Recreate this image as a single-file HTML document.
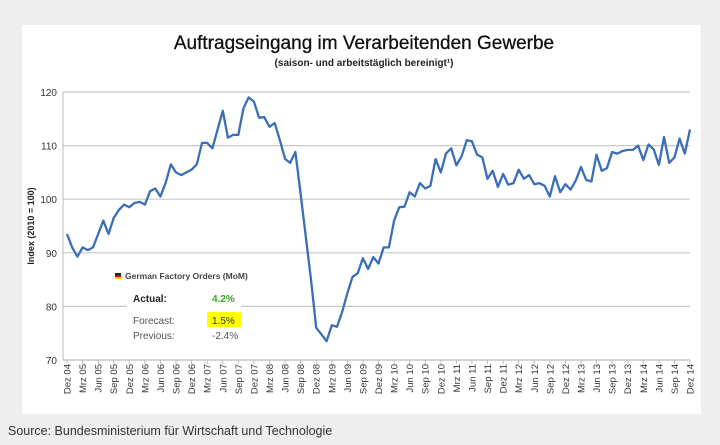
<!DOCTYPE html>
<html><head><meta charset="utf-8"><style>
body{margin:0;width:720px;height:445px;background:#eeeeee;overflow:hidden;font-family:"Liberation Sans",sans-serif}
#panel{position:absolute;left:22px;top:25px;width:679px;height:389px;background:#fff}
#src{position:absolute;left:8px;top:424px;font-size:12.5px;color:#333}
</style></head><body>
<div id="panel"></div>
<svg id="chart" width="720" height="445" style="position:absolute;left:0;top:0">
<text x="364" y="49" text-anchor="middle" font-family="Liberation Sans Narrow, Liberation Sans, sans-serif" font-size="19" fill="#111" stroke="#111" stroke-width="0.3">Auftragseingang im Verarbeitenden Gewerbe</text>
<text x="364" y="66" text-anchor="middle" font-family="Liberation Sans Narrow, Liberation Sans, sans-serif" font-size="10" font-weight="bold" fill="#222">(saison- und arbeitstäglich bereinigt¹)</text>
<text transform="translate(34,226) rotate(-90)" text-anchor="middle" font-size="9" font-weight="bold" fill="#222">Index (2010 = 100)</text>
<g id="grid"></g><g id="xaxis"></g>
<path id="line" fill="none" stroke="#3a6fb5" stroke-width="2.3" stroke-linejoin="round"/>
<g>
<rect x="127" y="300" width="114" height="12" fill="#fff"/>
<rect x="115" y="273" width="6" height="2" fill="#222"/><rect x="115" y="275" width="6" height="2" fill="#d00"/><rect x="115" y="277" width="6" height="2" fill="#fc0"/>
<text x="125" y="279" font-size="8.5" font-weight="bold" fill="#444">German Factory Orders (MoM)</text>
<text x="133" y="302" font-size="10" font-weight="bold" fill="#222">Actual:</text>
<text x="212" y="302" font-size="10" font-weight="bold" fill="#33aa22">4.2%</text>
<text x="133" y="324" font-size="10" fill="#555">Forecast:</text>
<rect x="207" y="312" width="34" height="15" fill="#ffff00"/>
<text x="212" y="324" font-size="10" fill="#333">1.5%</text>
<text x="133" y="339" font-size="10" fill="#555">Previous:</text>
<text x="212" y="339" font-size="10" fill="#555">-2.4%</text>
</g>
</svg>
<div id="src">Source: Bundesministerium für Wirtschaft und Technologie</div>
<script>
const yTicks=[70,80,90,100,110,120];
const monthNames=["Dez","Mrz","Jun","Sep"];
const startYear=4;
const values=[93.5,91,89.3,91,90.5,91,93.5,96,93.5,96.5,
98,99,98.5,99.3,99.5,99,101.5,102,100.5,103,
106.5,105,104.5,105,105.5,106.5,110.5,110.5,109.5,113,
116.5,111.5,112,112,117,119,118.2,115.2,115.3,113.5,
114.2,111,107.5,106.8,108.8,101,93,85,76,74.8,
73.5,76.5,76.2,79,82.5,85.5,86.2,89,87,89.2,
88,91,91,96,98.5,98.6,101.3,100.5,103,102,
102.5,107.5,105,108.5,109.5,106.3,108,111,110.8,108.3,
107.8,103.8,105.3,102.3,104.7,102.7,103,105.5,103.8,104.5,
102.8,103,102.5,100.5,104.3,101.3,102.8,101.8,103.5,106,
103.6,103.3,108.3,105.3,105.8,108.8,108.5,109,109.2,109.2,
110,107.3,110.2,109.3,106.4,111.6,106.8,107.8,111.3,108.5,113];
const NS='http://www.w3.org/2000/svg';
const x0=67,x1=690,yTop=92,yBot=360,left=63,right=690;
const X=i=>x0+(x1-x0)*i/(values.length-1);
const Y=v=>yBot-(v-70)/50*(yBot-yTop);
const grid=document.getElementById('grid'),xa=document.getElementById('xaxis');
function mk(t,a,p){const e=document.createElementNS(NS,t);for(const k in a)e.setAttribute(k,a[k]);p.appendChild(e);return e;}
yTicks.forEach(v=>{
 const g=mk('line',{x1:left,x2:right,y1:Y(v),y2:Y(v),stroke:v===70?'#bbb':'#c8c8c8','stroke-width':1.2},grid);
 
 
 const t=mk('text',{x:57,y:Y(v)+4,'text-anchor':'end','font-size':10,fill:'#333'},grid);
 t.textContent=v;
 
 
});
mk('line',{x1:left,x2:left,y1:yTop,y2:yBot,stroke:'#bbb'},grid);
for(let i=0;i<values.length;i+=3){
 const q=(i/3)%4, yr=startYear+Math.floor((i+11)/12);
 const lbl=monthNames[q]+' '+String(yr).padStart(2,'0');
 mk('line',{x1:X(i),x2:X(i),y1:yBot,y2:yBot+4,stroke:'#bbb'},xa);
 const t=mk('text',{transform:`translate(${X(i)+3.5},${yBot+4}) rotate(-90)`,'text-anchor':'end','font-size':9.5,fill:'#333'},xa);
 t.textContent=lbl;
 
 
}
document.getElementById('line').setAttribute('d',values.map((v,i)=>(i?'L':'M')+X(i).toFixed(1)+','+Y(v).toFixed(1)).join(''));
</script>
</body></html>
